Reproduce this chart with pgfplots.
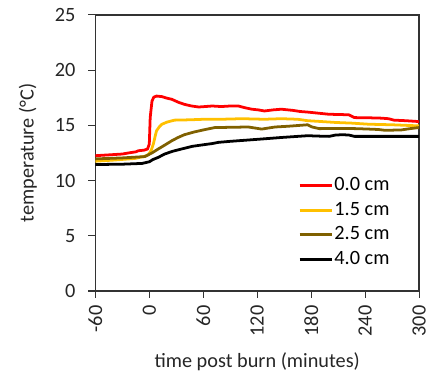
\documentclass[border=0pt]{standalone}
\usepackage{pgfplots}
\pgfplotsset{compat=1.18}
\usepackage{fontspec}
\setmainfont{Carlito}
\definecolor{cred}{RGB}{255,0,0}
\definecolor{cyel}{RGB}{255,192,0}
\definecolor{cbrn}{RGB}{127,96,0}
\begin{document}
\fontsize{20.5}{24}\selectfont
\begin{tikzpicture}
\begin{axis}[
  scale only axis,
  width=326bp, height=278bp,
  xmin=-60, xmax=300, ymin=0, ymax=25,
  xtick={-60,0,60,120,180,240,300},
  ytick={0,5,10,15,20,25},
  xtick pos=left, ytick pos=left,
  tick align=outside,
  major tick length=7bp,
  axis line style={line width=1.4pt, black!80},
  tick style={line width=1.1pt, black!80},
  /pgf/number format/assume math mode=true,
  ticklabel style={font=\fontsize{20.5}{24}\selectfont, text=black!85},
  xticklabel style={rotate=90, anchor=east, inner sep=0.5pt},
  xticklabel shift=7bp,
  yticklabel shift=6bp,
  xlabel={time post burn (minutes)},
  ylabel={temperature (°C)},
  xlabel style={at={(axis description cs:0.5,-0.2554)}, anchor=center},
  ylabel style={at={(axis description cs:-0.2086,0.5)}, anchor=center},
  label style={font=\fontsize{20.5}{24}\selectfont, text=black!85},
  every axis plot/.append style={line width=2.8pt, line join=round},
  legend style={at={(0.626,0.414)}, anchor=north west, draw=none, fill=none,
    font=\fontsize{20.5}{24}\selectfont, row sep=7.5bp, inner sep=0pt,
    nodes={inner sep=0.5pt}},
  legend cell align=left,
  legend image code/.code={\draw[#1, line width=3pt] (0,0) -- (33bp,0);},
]
\addplot[cred] coordinates {
(-60,12.25)(-50,12.3)(-40,12.35)(-30,12.4)(-23,12.5)(-15,12.6)(-12,12.7)(-6,12.75)(-2,12.85)(0,13.3)(1,15.7)(3,17.2)(5,17.55)(8,17.65)(14,17.6)(20,17.45)(25,17.36)(32,17.1)(39,16.9)(47,16.75)(55,16.66)(62,16.7)(70,16.75)(80,16.7)(90,16.75)(99,16.75)(106,16.6)(114,16.46)(121,16.4)(128,16.3)(138,16.4)(147,16.46)(160,16.35)(168,16.25)(176,16.2)(188,16.1)(200,16.0)(212,15.98)(222,15.95)(228,15.7)(245,15.68)(258,15.65)(266,15.6)(272,15.47)(285,15.42)(298,15.35)(300,15.3)
};
\addlegendentry{0.0 cm}
\addplot[cyel] coordinates {
(-60,11.75)(-40,11.85)(-16,12.0)(-5,12.2)(-1,12.35)(2,12.7)(4.5,13.3)(6.5,14.0)(8,14.5)(11,14.85)(14,15.1)(20,15.3)(28,15.47)(45,15.5)(61,15.55)(80,15.55)(103,15.6)(128,15.55)(147,15.6)(165,15.55)(176,15.42)(190,15.35)(207,15.26)(225,15.2)(244,15.1)(270,15.05)(300,14.95)
};
\addlegendentry{1.5 cm}
\addplot[cbrn] coordinates {
(-60,11.96)(-30,12.05)(-5,12.17)(3,12.5)(10,12.86)(17,13.2)(25,13.6)(32,13.9)(39,14.15)(50,14.4)(61,14.6)(73,14.8)(90,14.82)(110,14.85)(118,14.75)(125,14.66)(132,14.75)(140,14.85)(155,14.92)(176,15.05)(181,14.85)(189,14.7)(210,14.72)(230,14.7)(244,14.66)(255,14.62)(262,14.55)(280,14.58)(290,14.7)(300,14.8)
};
\addlegendentry{2.5 cm}
\addplot[black] coordinates {
(-60,11.45)(-30,11.48)(-8,11.55)(0,11.7)(4,11.9)(10,12.1)(17,12.4)(26,12.65)(36,12.86)(48,13.1)(61,13.25)(70,13.35)(77,13.46)(90,13.55)(110,13.67)(128,13.78)(147,13.9)(165,14.0)(176,14.06)(190,14.02)(200,14.0)(207,14.12)(215,14.15)(222,14.12)(228,14.0)(260,14.0)(300,14.0)
};
\addlegendentry{4.0 cm}
\end{axis}
\pgfresetboundingbox
\path ([shift={(-96bp,-83bp)}]current axis.south west) rectangle ([shift={(12bp,15bp)}]current axis.north east);
\end{tikzpicture}
\end{document}
